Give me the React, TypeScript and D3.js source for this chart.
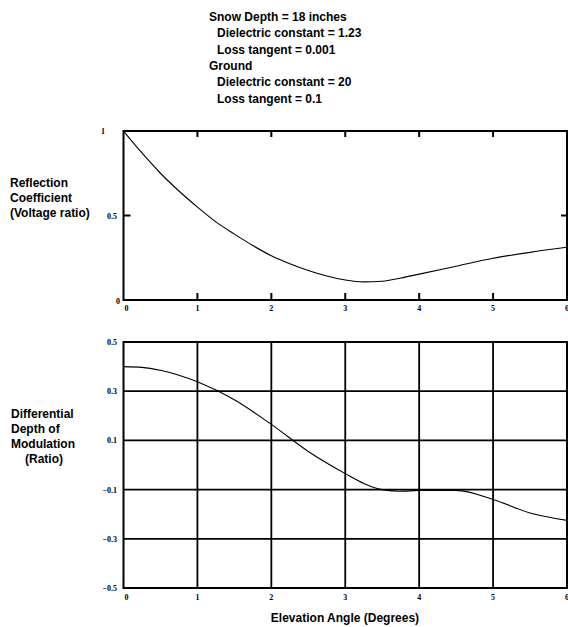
import React from "react";
import * as d3 from "d3";

const headerLines = [
  { text: "Snow Depth = 18 inches", indent: 0 },
  { text: "Dielectric constant = 1.23", indent: 1 },
  { text: "Loss tangent = 0.001", indent: 1 },
  { text: "Ground", indent: 0 },
  { text: "Dielectric constant = 20", indent: 1 },
  { text: "Loss tangent = 0.1", indent: 1 },
];

const topLabel = ["Reflection", "Coefficient", "(Voltage ratio)"];
const bottomLabel = ["Differential", "Depth of", "Modulation", "(Ratio)"];
const xTitle = "Elevation Angle (Degrees)";

const xTicks = [0, 1, 2, 3, 4, 5, 6];
const topYTicks = [0, 0.5, 1];
const bottomYTicks = [-0.5, -0.3, -0.1, 0.1, 0.3, 0.5];

// Reflection coefficient vs elevation angle
const reflAngle = [0, 0.25, 0.5, 0.75, 1, 1.25, 1.5, 1.75, 2, 2.25, 2.5, 2.75, 3, 3.25, 3.5, 3.75, 4, 4.5, 5, 5.5, 6];
const reflValue = [1.0, 0.87, 0.75, 0.645, 0.55, 0.462, 0.39, 0.322, 0.262, 0.215, 0.175, 0.142, 0.118, 0.107, 0.111, 0.13, 0.153, 0.2, 0.247, 0.282, 0.312];

// Differential depth of modulation vs elevation angle
const ddmAngle = [0, 0.25, 0.5, 0.75, 1, 1.5, 2, 2.5, 3, 3.25, 3.5, 3.75, 4, 4.5, 5, 5.5, 6];
const ddmValue = [0.4, 0.397, 0.385, 0.365, 0.338, 0.265, 0.165, 0.055, -0.035, -0.075, -0.1, -0.107, -0.103, -0.103, -0.14, -0.195, -0.225];

const fmt = (v: number) => (v === 0 ? "0" : v === 1 ? "1" : String(v));

export default function App() {
  const left = 123.5;
  const right = 567;
  const x = d3.scaleLinear().domain([0, 6]).range([left, right]);
  const yTop = d3.scaleLinear().domain([0, 1]).range([300, 131]);
  const yBot = d3.scaleLinear().domain([-0.5, 0.5]).range([588, 342]);

  const lineTop = d3
    .line<number>()
    .x((_, i) => x(reflAngle[i]))
    .y((d) => yTop(d))
    .curve(d3.curveMonotoneX);
  const lineBot = d3
    .line<number>()
    .x((_, i) => x(ddmAngle[i]))
    .y((d) => yBot(d))
    .curve(d3.curveMonotoneX);

  const sans = "'Liberation Sans', Arial, sans-serif";
  const serif = "'Liberation Serif', 'DejaVu Serif', serif";

  return (
    <svg
      width={568}
      height={627}
      style={{ position: "absolute", left: 0, top: 0, background: "#fff" }}
    >
      <rect x={0} y={0} width={568} height={627} fill="#fff" />
      {headerLines.map((l, i) => (
        <text
          key={i}
          x={209 + l.indent * 8}
          y={21 + i * 16.3}
          fontFamily={sans}
          fontWeight="bold"
          fontSize={12}
          fill="#000"
        >
          {l.text}
        </text>
      ))}

      {topLabel.map((t, i) => (
        <text key={i} x={10} y={187 + i * 15} fontFamily={sans} fontWeight="bold" fontSize={12} fill="#000">
          {t}
        </text>
      ))}
      {bottomLabel.map((t, i) => (
        <text
          key={i}
          x={i === 3 ? 25 : 11}
          y={418 + i * 15}
          fontFamily={sans}
          fontWeight="bold"
          fontSize={12}
          fill="#000"
        >
          {t}
        </text>
      ))}

      <g>
        <rect
          x={left}
          y={yTop(1)}
          width={right - left}
          height={yTop(0) - yTop(1)}
          fill="none"
          stroke="#000"
          strokeWidth={2}
        />
        {xTicks.slice(1, -1).map((t) => (
          <g key={t}>
            <line x1={x(t)} x2={x(t)} y1={yTop(0)} y2={yTop(0) - 7} stroke="#000" strokeWidth={2} />
            <line x1={x(t)} x2={x(t)} y1={yTop(1)} y2={yTop(1) + 6} stroke="#000" strokeWidth={2} />
          </g>
        ))}
        <line x1={left} x2={left + 7} y1={yTop(0.5)} y2={yTop(0.5)} stroke="#000" strokeWidth={2} />
        <line x1={right} x2={right - 6} y1={yTop(0.5)} y2={yTop(0.5)} stroke="#000" strokeWidth={2} />
        {xTicks.map((t) => (
          <text
            key={t}
            x={x(t) + (t === 0 ? 3 : 0)}
            y={311}
            textAnchor="middle"
            fontFamily={serif}
            fontWeight="bold"
            fontSize={8}
            fill="#000"
          >
            {t}
          </text>
        ))}
        {topYTicks.map((t) => (
          <text
            key={t}
            x={t === 1 ? 105 : t === 0 ? 120 : 117}
            y={yTop(t) + (t === 0 ? 4 : 3)}
            textAnchor="end"
            fontFamily={serif}
            fontWeight="bold"
            fontSize={8}
            fill="#000"
          >
            {fmt(t)}
          </text>
        ))}
        <path d={lineTop(reflValue) || ""} fill="none" stroke="#000" strokeWidth={1.1} />
      </g>

      <g>
        {xTicks.slice(1, -1).map((t) => (
          <line key={t} x1={x(t)} x2={x(t)} y1={yBot(0.5)} y2={yBot(-0.5)} stroke="#000" strokeWidth={1.8} />
        ))}
        {bottomYTicks.slice(1, -1).map((t) => (
          <line key={t} x1={left} x2={right} y1={yBot(t)} y2={yBot(t)} stroke="#000" strokeWidth={1.8} />
        ))}
        <rect
          x={left}
          y={yBot(0.5)}
          width={right - left}
          height={yBot(-0.5) - yBot(0.5)}
          fill="none"
          stroke="#000"
          strokeWidth={2}
        />
        {xTicks.map((t) => (
          <text
            key={t}
            x={x(t) + (t === 0 ? 3 : 0)}
            y={600}
            textAnchor="middle"
            fontFamily={serif}
            fontWeight="bold"
            fontSize={8}
            fill="#000"
          >
            {t}
          </text>
        ))}
        {bottomYTicks.map((t) => (
          <text
            key={t}
            x={117}
            y={yBot(t) + 3}
            textAnchor="end"
            fontFamily={serif}
            fontWeight="bold"
            fontSize={8}
            fill="#000"
          >
            {d3.format(".1f")(t)}
          </text>
        ))}
        <path d={lineBot(ddmValue) || ""} fill="none" stroke="#000" strokeWidth={1.1} />
      </g>

      <text
        x={345}
        y={622}
        textAnchor="middle"
        fontFamily={sans}
        fontWeight="bold"
        fontSize={12}
        fill="#000"
      >
        {xTitle}
      </text>
    </svg>
  );
}
